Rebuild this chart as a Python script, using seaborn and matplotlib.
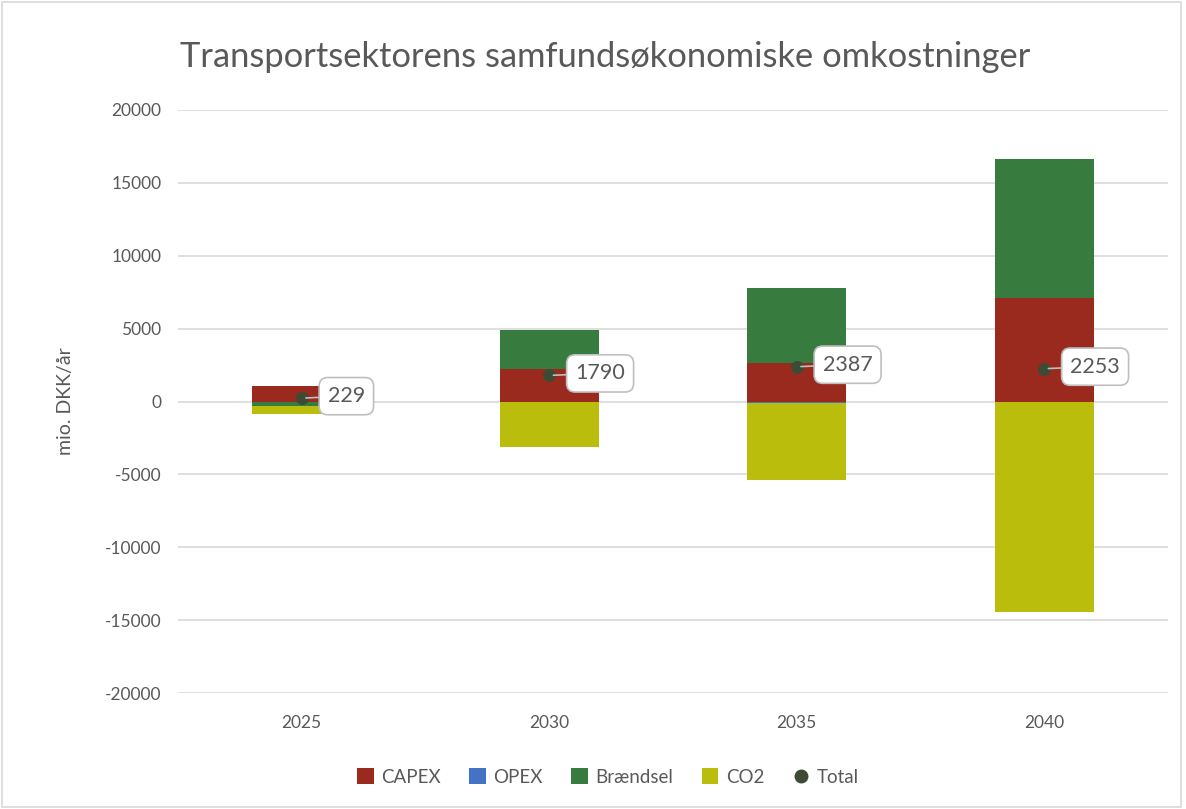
import numpy as np
import pandas as pd
import matplotlib
matplotlib.use("Agg")
import matplotlib.pyplot as plt
from matplotlib.patches import Patch
from matplotlib.lines import Line2D
import seaborn as sns

# values (mio. DKK/år)
years = ["2025", "2030", "2035", "2040"]
capex = [1070, 2210, 2670, 7120]
opex = [-60, -60, -100, -35]
braendsel = [-270, 2690, 5140, 9550]
co2 = [-510, -3050, -5320, -14380]
total = [229, 1790, 2387, 2253]

series = [("CAPEX", capex, "#9a2a1d"),
          ("OPEX", opex, "#4472c4"),
          ("Brændsel", braendsel, "#377c3e"),
          ("CO2", co2, "#bbbd0c")]

sns.set_theme(style="white")
plt.rcParams["font.family"] = ["Lato", "DejaVu Sans"]
plt.rcParams["axes.unicode_minus"] = False
txt = "#595959"

fig = plt.figure(figsize=(11.86, 8.09), dpi=100)
ax = fig.add_axes([178 / 1186, 1 - 693 / 809, 990 / 1186, 583 / 809])

pos_base = np.zeros(len(years))
neg_base = np.zeros(len(years))
for name, vals, col in series:
    vals = np.array(vals, dtype=float)
    bottom = np.where(vals >= 0, pos_base, neg_base)
    sns.barplot(x=years, y=vals, bottom=bottom, color=col, width=0.4,
                saturation=1, ax=ax, linewidth=0, zorder=2)
    pos_base = pos_base + np.where(vals >= 0, vals, 0)
    neg_base = neg_base + np.where(vals < 0, vals, 0)

xs = np.arange(len(years))
ax.scatter(xs, total, s=70, color="#3f4a35", zorder=4)
for x, t in zip(xs, total):
    ax.annotate(str(t), xy=(x, t), xytext=(26, 2), textcoords="offset pixels",
                ha="left", va="center", fontsize=15.5, color=txt, zorder=5,
                bbox=dict(boxstyle="round,pad=0.4,rounding_size=0.4",
                          fc="white", ec="#bfbfbf", lw=1.2),
                arrowprops=dict(arrowstyle="-", color="#bfbfbf", lw=1.2,
                                shrinkA=0, shrinkB=3))

ax.set_ylim(-20000, 20000)
ax.set_xlim(-0.5, 3.5)
ax.set_yticks(range(-20000, 20001, 5000))
ax.yaxis.grid(True, color="#d9d9d9", lw=1.2, zorder=0)
ax.set_axisbelow(True)
for s in ax.spines.values():
    s.set_visible(False)
ax.tick_params(axis="both", length=0, labelsize=12.5, colors=txt, pad=12)
ax.tick_params(axis="x", pad=16)
ax.set_xlabel("")
ax.set_ylabel("mio. DKK/år", fontsize=14, color=txt, labelpad=22)

fig.text(180 / 1186, 1 - 57 / 809, "Transportsektorens samfundsøkonomiske omkostninger",
         fontsize=24.8, color=txt, ha="left", va="center")

handles = [Patch(facecolor=c, edgecolor="none", label=n) for n, _, c in series]
handles.append(Line2D([], [], marker="o", linestyle="none", markersize=9,
                      color="#3f4a35", label="Total"))
fig.legend(handles=handles, loc="center", bbox_to_anchor=(608 / 1186, 1 - 777 / 809),
           ncol=5, frameon=False, fontsize=13.5, handlelength=0.9, handleheight=0.9,
           handletextpad=0.4, columnspacing=1.5, labelcolor=txt)

fig.patches.append(plt.Rectangle((0.002, 0.002), 0.994, 0.995, transform=fig.transFigure,
                                 fill=False, ec="#d9d9d9", lw=1.2))
fig.savefig("out.png", dpi=100)
